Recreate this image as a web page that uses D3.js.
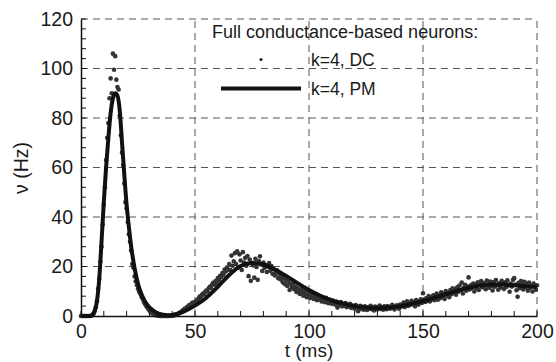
<!DOCTYPE html>
<html><head><meta charset="utf-8">
<script src="https://cdn.jsdelivr.net/npm/d3@7"></script>
<style>
html,body{margin:0;padding:0;background:#fff;}
svg{display:block;font-family:"Liberation Sans",Arial,Helvetica,sans-serif;}
</style></head>
<body><svg id="chart" width="556" height="362"></svg>
<script>
// ---- data ----
const xTicks = [0, 50, 100, 150, 200];
const yTicks = [0, 20, 40, 60, 80, 100, 120];
const xLabel = "t (ms)";
const yLabel = "ν (Hz)";
const legendTitle = "Full conductance-based neurons:";
const seriesNames = ["k=4, DC", "k=4, PM"];

// PM (solid line) sample times and rates
const pmT = [0,2,4,5,6,7,8,9,10,11,12,13,14,15,16,17,18,19,20,21,22,23,24,25,26,28,30,32,34,36,38,40,42,45,50,55,60,65,70,75,80,85,90,95,100,105,110,115,120,125,130,135,140,145,150,155,160,165,170,175,180,185,190,195,200];
const pmV = [0,0,0,0.5,2,6,15,30,46,60,72,82,88,90,89,83,70,57,45,36,28,22,17,13,10,6,3.5,2,1,0.5,0.3,0.4,0.8,1.8,4.2,7.4,11.8,16.6,20.2,21.4,20.8,18.8,16.2,13.3,10.5,8.2,6.3,5,4,3.4,3.2,3.4,4,4.9,6,7.4,8.8,10.2,11.4,12.3,12.7,12.7,12.4,12,11.7];

// DC (dots): sampled every 0.5 ms from 0 to 200 ms
const dcStart = 0, dcStep = 0.5;
const dcV = [
0,0,0,0,0,0,0,0,0,0.1,
0.3,0.9,2,3.5,6,11,15,22,28,37,
45,52,63,72,78,88,96,90,106,99.5,
105,95.5,92.5,91.5,81,73,66,61,53.5,46,
43.5,38,33,30,26.5,21,19.5,16,14,12.5,
11,9.8,9,7.8,7,5.8,5,4.2,3.5,2.8,
2.2,1.7,1.2,0.9,0.6,0.4,0.3,0.2,0.1,0,
0,0,0,0,0,0,0,0,0.1,0,
0.1,0.2,0.3,0.5,0.6,0.9,1.1,1.5,1.6,2.2,
2.4,3,2.8,3.6,3.9,4.4,4.2,5,5.4,5.1,
5.6,6.0,6.4,7.0,7.9,7.5,8.5,9.1,8.7,9.8,
10.3,9.9,11.2,11.8,11.3,12.7,13.4,12.6,14.1,13.4,
15.3,14.6,16.2,15.8,17.4,16.7,18.8,18.0,19.6,18.7,
21.0,18.6,24.4,20.3,22.1,25.4,21.0,26.1,19.6,24.9,
22.4,18.6,25.8,21.6,23.5,20.3,24.2,16.1,22.8,14.2,
21.5,20.4,15.5,23.1,19.8,14.6,22.2,24.1,20.8,18.2,
21.6,19.5,20.6,17.8,19.9,21.4,18.3,20.2,17.1,18.9,
16.4,17.6,18.5,15.3,16.9,14.8,16.1,13.6,15.4,12.8,
14.5,12.1,13.8,10.5,12.9,11.6,13.2,10.8,11.9,9.7,
11.3,10.2,8.9,10.8,9.4,8.2,10.1,8.8,7.6,9.3,
8.1,7.3,8.9,7.8,6.9,8.4,7.2,6.4,7.9,6.8,
7.5,5.9,7.1,6.3,5.6,7.4,6.1,5.2,6.6,5.8,
4.9,6.2,5.4,4.6,5.8,3.4,5.1,4.4,5.6,3.9,
4.7,4.1,5.2,3.6,4.5,3.8,4.9,3.3,4.2,3.5,
2.9,4.4,3.7,1.9,3.2,4.1,2.8,3.6,2.5,3.9,
3.1,2.4,3.5,2.9,4.1,2.7,3.3,2.2,3.8,3.0,
2.6,3.6,4.2,2.8,3.4,2.5,3.9,3.1,2.7,4.0,
3.3,2.9,3.7,4.5,3.2,2.6,3.9,4.3,3.5,2.9,
4.6,3.8,4.2,5.4,3.6,4.8,5.9,4.1,5.2,4.5,
6.1,4.9,5.5,3.9,6.4,5.1,4.6,5.8,6.7,5.3,
9.2,6.5,5.7,7.3,6.2,8.1,5.9,7.6,6.8,8.4,
6.4,7.9,9.1,6.6,8.3,7.2,9.6,7.7,8.9,6.9,
10.1,8.5,9.4,7.6,10.5,8.8,11.2,9.3,10.8,8.6,
11.6,9.8,12.3,10.4,13.5,9.1,11.5,12.6,10.2,11.9,
15.6,10.7,12.4,11.3,13.1,9.9,12.8,11.1,13.6,10.5,
12.9,14.1,11.6,13.3,12.2,10.8,14.3,12.6,11.4,13.9,
12.1,10.3,13.7,11.8,14.5,12.4,10.6,13.2,11.5,14.2,
12.8,10.9,13.6,11.7,14.4,12.3,9.8,13.1,11.9,14.6,
15.3,12.7,10.4,7.8,13.4,11.2,14.1,12.5,10.7,13.8,
11.6,12.9,10.2,13.5,11.4,12.2,9.9,13.1,11.8,10.6,
12.4];

// ---- layout ----
const svg = d3.select("#chart");
const L = 81, R = 537, T = 19, B = 316;
const x = d3.scaleLinear().domain([0, 200]).range([L, R]);
const y = d3.scaleLinear().domain([0, 120]).range([B, T]);
const fs = 19.5;

// grid
const grid = svg.append("g").attr("stroke", "#555").attr("stroke-width", 1).attr("stroke-dasharray", "7,5").attr("fill", "none");
xTicks.filter(d => d > 0).forEach(d => grid.append("line").attr("x1", x(d)).attr("x2", x(d)).attr("y1", B).attr("y2", T));
yTicks.filter(d => d > 0).forEach(d => grid.append("line").attr("x1", L).attr("x2", R).attr("y1", y(d)).attr("y2", y(d)));

// legend
const lg = svg.append("g").attr("font-size", 17.5).attr("fill", "#1a1a1a");
lg.append("text").attr("x", 212).attr("y", 37.5).attr("font-size", 18).text(legendTitle);
lg.append("circle").attr("cx", 261).attr("cy", 59.5).attr("r", 1.6).attr("fill", "#222");
lg.append("text").attr("x", 311).attr("y", 65.5).text(seriesNames[0]);
lg.append("line").attr("x1", 221).attr("x2", 301).attr("y1", 88.5).attr("y2", 88.5).attr("stroke", "#111").attr("stroke-width", 4);
lg.append("text").attr("x", 311).attr("y", 95).text(seriesNames[1]);

// dots
const dcData = dcV.map((v, i) => ({t: dcStart + i * dcStep, v}));
svg.append("g").selectAll("circle").data(dcData).join("circle")
  .attr("cx", d => x(d.t)).attr("cy", d => y(d.v)).attr("r", 2.3)
  .attr("fill", "#333");

// line
const pmData = pmT.map((t, i) => ({t, v: pmV[i]}));
svg.append("path").datum(pmData)
  .attr("fill", "none").attr("stroke", "#111").attr("stroke-width", 4).attr("stroke-linejoin", "round")
  .attr("d", d3.line().x(d => x(d.t)).y(d => y(d.v)).curve(d3.curveMonotoneX));

// axes
const xAxis = d3.axisBottom(x).tickValues(xTicks).tickSize(0).tickPadding(8).tickFormat(d3.format("d"));
const gx = svg.append("g").attr("transform", `translate(0,${B})`).call(xAxis);
gx.select(".domain").attr("stroke", "#111").attr("stroke-width", 1.5);
gx.selectAll("text").attr("font-size", fs).attr("fill", "#1a1a1a").attr("font-family", null);
const xMinor = d3.range(0, 201, 10);
gx.selectAll(".minor").data(xMinor).join("line").attr("class", "minor")
  .attr("x1", d => x(d)).attr("x2", d => x(d)).attr("y1", 0).attr("y2", -5)
  .attr("stroke", "#111").attr("stroke-width", 1);

const yAxis = d3.axisLeft(y).tickValues(yTicks).tickSize(0).tickPadding(8).tickFormat(d3.format("d"));
const gy = svg.append("g").attr("transform", `translate(${L},0)`).call(yAxis);
gy.select(".domain").attr("stroke", "#111").attr("stroke-width", 1.5);
gy.selectAll("text").attr("font-size", fs).attr("fill", "#1a1a1a").attr("font-family", null);
const yMinor = d3.range(0, 121, 4);
gy.selectAll(".minor").data(yMinor).join("line").attr("class", "minor")
  .attr("x1", 0).attr("x2", 5).attr("y1", d => y(d)).attr("y2", d => y(d))
  .attr("stroke", "#111").attr("stroke-width", 1);

// axis labels
svg.append("text").attr("x", 309).attr("y", 356.5).attr("text-anchor", "middle")
  .attr("font-size", 19).attr("fill", "#1a1a1a").text(xLabel);
svg.append("text").attr("transform", "translate(28,168) rotate(-90)").attr("text-anchor", "middle")
  .attr("font-size", fs).attr("fill", "#1a1a1a").text(yLabel);
</script></body></html>
